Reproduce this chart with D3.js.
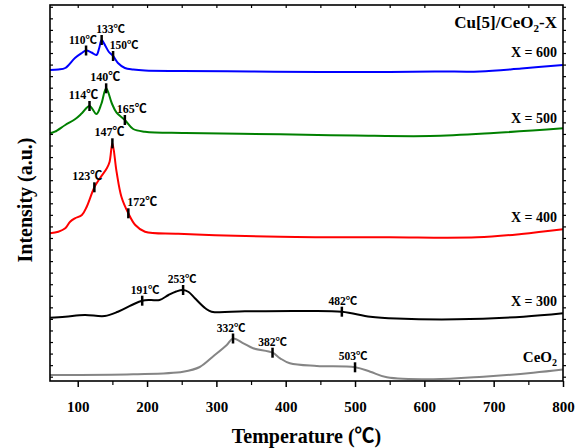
<!DOCTYPE html>
<html><head><meta charset="utf-8">
<script src="https://cdn.jsdelivr.net/npm/d3@7/dist/d3.min.js"></script>
<style>
body{margin:0;background:#fff}
svg{display:block}
text{font-family:"Liberation Serif","Times New Roman","Noto Sans CJK SC",serif;font-weight:bold;fill:#000}
.cjk{font-family:"Noto Sans CJK SC","Noto Sans CJK JP",sans-serif}
</style>
</head><body><svg id="chart" width="584" height="448"></svg>
<script>
// ---- data (temperature in ℃, intensity in arbitrary units) ----
const seriesNames = ["CeO2", "X = 300", "X = 400", "X = 500", "X = 600"];
const seriesColors = ["#858585", "#000000", "#ff0000", "#008000", "#0000ff"];

const curveCeO2 = [[60,6],[180,6.7],[252,9.3],[276,14],[296,25],[315,36],[324,42.5],[339,37.7],[353,32.7],[381,28.3],[392,22.7],[406,17.7],[445,15],[500,13.7],[522,9.3],[546,3.7],[613,1.7],[685,4.3],[757,8.3],[800,11.5]];
const curveX300 = [[60,63.3],[82,64.3],[110,66],[139,65],[158,69.3],[178,76],[193,80.3],[205,81],[218,81],[231,86],[242,89.5],[252,91],[260,89],[269,82.7],[284,72.7],[293,69.3],[341,69.7],[420,70],[481,69.3],[522,64.3],[560,62.5],[647,61.7],[743,64.3],[800,67.7]];
const curveX400 = [[60,147.7],[72,149.3],[82,152.7],[89,159.3],[96,162.7],[106,166],[113,174.3],[124,193.7],[132,202.7],[142,212.7],[146,219.3],[150,237.7],[156,209.3],[163,184.3],[173,167.7],[183,156],[197,149.3],[245,147.3],[392,144.3],[550,143.7],[676,143.7],[740,147],[800,151.7]];
const curveX500 = [[60,247.7],[67,249.3],[82,256],[96,261.7],[106,267.7],[117,275],[127,267],[134,277],[141,292.7],[149,278],[156,268.3],[168,261],[180,252],[197,249.3],[255,248],[392,246.7],[500,245.5],[608,245],[700,248],[800,252.7]];
const curveX600 = [[60,311],[72,311.5],[82,313],[96,323],[106,328],[112,330.5],[120,328.5],[127,326],[131,333],[134.5,341],[140,335],[145,329],[151,325],[158,318],[168,313],[180,311.5],[197,310.5],[250,310],[350,309.5],[450,309],[550,309],[620,309.5],[680,309.5],[740,312.5],[800,316]];

const peakTempsCeO2 = [324, 381, 500];
const peakTempsX300 = [193, 252, 481];
const peakTempsX400 = [124, 150, 173];
const peakTempsX500 = [117, 141, 168];
const peakTempsX600 = [112, 134.5, 151];

const peakLabelsCeO2 = ["332℃", "382℃", "503℃"];
const peakLabelsX300 = ["191℃", "253℃", "482℃"];
const peakLabelsX400 = ["123℃", "147℃", "172℃"];
const peakLabelsX500 = ["114℃", "140℃", "165℃"];
const peakLabelsX600 = ["110℃", "133℃", "150℃"];

const xTickValues = [100, 200, 300, 400, 500, 600, 700, 800];
const chartTitle = "Cu[5]/CeO2-X";
const xTitle = "Temperature (℃)";
const yTitle = "Intensity (a.u.)";

// ---- layout (pixels) ----
const labelDx = [[-2, 0, -2], [3, -1, 1], [-7, -3, 14], [-6, -1, 7], [-3, 9, 11]];
const seriesLabelY = [362, 306, 222, 123, 57];
const labelFont = [11.5, 11.5, 12, 12, 11.5];

const curves = [curveCeO2, curveX300, curveX400, curveX500, curveX600];
const peakTemps = [peakTempsCeO2, peakTempsX300, peakTempsX400, peakTempsX500, peakTempsX600];
const peakLabels = [peakLabelsCeO2, peakLabelsX300, peakLabelsX400, peakLabelsX500, peakLabelsX600];

const L = 50, R = 563, T = 5, B = 381;
const svg = d3.select("#chart");
const x = d3.scaleLinear().domain([60, 800]).range([L, R]);
const y = d3.scaleLinear().domain([0, 376]).range([B, T]);

// write text, putting the ℃ sign in a CJK font
function degText(sel, s) {
  const parts = s.split("℃");
  parts.forEach((p, k) => {
    if (p) sel.append("tspan").text(p);
    if (k < parts.length - 1) sel.append("tspan").attr("class", "cjk").text("℃");
  });
}

// curves
const line = d3.line().x(d => x(d[0])).y(d => y(d[1])).curve(d3.curveCatmullRom.alpha(0.5));
curves.forEach((c, i) => {
  svg.append("path").datum(c).attr("d", line)
    .attr("fill", "none").attr("stroke", seriesColors[i]).attr("stroke-width", 2)
    .attr("stroke-linejoin", "round");
});

// peak markers + labels
curves.forEach((c, i) => {
  peakTemps[i].forEach((t, j) => {
    const pt = c.find(d => d[0] === t);
    const px = x(t), py = y(pt[1]);
    svg.append("line").attr("x1", px).attr("x2", px).attr("y1", py - 5).attr("y2", py + 5)
      .attr("stroke", "#000").attr("stroke-width", 2.5);
    const tx = svg.append("text").attr("x", px + labelDx[i][j]).attr("y", py - 7)
      .attr("text-anchor", "middle").attr("font-size", labelFont[i]);
    degText(tx, peakLabels[i][j]);
  });
});

// axes
const yTicks = d3.range(4.3, 376, 11.56);
svg.append("g").attr("transform", `translate(0,${B})`)
  .call(d3.axisBottom(x).tickValues(xTickValues).tickSize(6).tickFormat(d3.format("d")))
  .call(g => { g.select(".domain").remove();
    g.selectAll("text").attr("font-size", 15).attr("dy", "0").attr("y", 31).attr("font-family", null);
    g.selectAll("line").attr("stroke-width", 1.5); });
svg.append("g").attr("transform", `translate(0,${B})`)
  .call(d3.axisBottom(x).tickValues(d3.range(150, 800, 100)).tickSize(4).tickFormat(""))
  .call(g => { g.select(".domain").remove(); g.selectAll("line").attr("stroke-width", 1.2); });
svg.append("g").attr("transform", `translate(0,${T})`)
  .call(d3.axisBottom(x).tickValues(d3.range(100, 800, 50)).tickSize(3).tickFormat(""))
  .call(g => { g.select(".domain").remove(); g.selectAll("line").attr("stroke-width", 1.2); });
svg.append("g").attr("transform", `translate(${L},0)`)
  .call(d3.axisRight(y).tickValues(yTicks).tickSize(3).tickFormat(""))
  .call(g => { g.select(".domain").remove(); g.selectAll("line").attr("stroke-width", 1.2); });
svg.append("g").attr("transform", `translate(${R},0)`)
  .call(d3.axisRight(y).tickValues(yTicks).tickSize(3).tickFormat(""))
  .call(g => { g.select(".domain").remove(); g.selectAll("line").attr("stroke-width", 1.2); });

svg.append("rect").attr("x", L).attr("y", T).attr("width", R - L).attr("height", B - T)
  .attr("fill", "none").attr("stroke", "#000").attr("stroke-width", 1.6);

// series labels
seriesNames.forEach((n, i) => {
  const t = svg.append("text").attr("x", 557).attr("y", seriesLabelY[i])
    .attr("text-anchor", "end").attr("font-size", i === 0 ? 15 : 14);
  if (n === "CeO2") {
    t.append("tspan").text("CeO");
    t.append("tspan").attr("font-size", 10).attr("dy", 4).text("2");
  } else t.text(n);
});

// chart title with subscript
const ti = svg.append("text").attr("x", 557).attr("y", 28).attr("text-anchor", "end").attr("font-size", 17);
const parts = chartTitle.split("2");
ti.append("tspan").text(parts[0]);
ti.append("tspan").attr("font-size", 11).attr("dy", 4).text("2");
ti.append("tspan").attr("dy", -4).text(parts[1]);

// axis titles
const xt = svg.append("text").attr("x", (L + R) / 2).attr("y", 443).attr("text-anchor", "middle")
  .attr("font-size", 20);
degText(xt, xTitle);
svg.append("text").attr("transform", `translate(32,200) rotate(-90)`)
  .attr("text-anchor", "middle").attr("font-size", 20).text(yTitle);
</script>
</body></html>
